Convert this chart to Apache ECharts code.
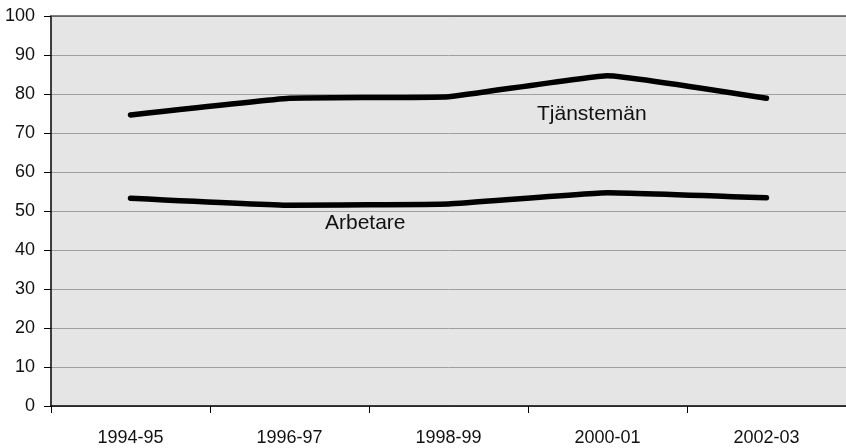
<!DOCTYPE html>
<html>
<head>
<meta charset="utf-8">
<script src="https://cdn.jsdelivr.net/npm/echarts@6/dist/echarts.min.js"></script>
<style>
  html, body { margin: 0; padding: 0; background: #ffffff; }
  #chart { width: 846px; height: 448px; }
</style>
</head>
<body>
<div id="chart"></div>
<script>
// Survey periods on the category axis
const periods = ['1994-95', '1996-97', '1998-99', '2000-01', '2002-03'];
// Share per group, percent
const tjansteman = [74.6, 78.9, 79.3, 84.7, 78.9];
const arbetare = [53.3, 51.5, 51.8, 54.7, 53.4];
// Value axis ticks
const yMin = 0, yMax = 100, yStep = 10;

const labelFont = '"Liberation Sans", Arial, sans-serif';

const chart = echarts.init(document.getElementById('chart'));

function lineSeries(name, data) {
  return {
    name: name,
    type: 'line',
    data: data,
    smooth: 0.1,
    symbol: 'none',
    lineStyle: { color: '#000000', width: 5.5, cap: 'round', join: 'round' },
    animation: false
  };
}

chart.setOption({
  animation: false,
  backgroundColor: '#ffffff',
  grid: {
    left: 51, right: -2, top: 16, bottom: 42,
    show: true, backgroundColor: '#e5e5e5', borderWidth: 0
  },
  xAxis: [{
    type: 'category',
    data: periods,
    boundaryGap: true,
    axisLine: { lineStyle: { color: '#000000', width: 1.5 } },
    axisTick: { show: true, length: 7, lineStyle: { color: '#000000' } },
    axisLabel: { color: '#111111', fontFamily: labelFont, fontSize: 18, margin: 23 }
  }, {
    type: 'category',
    data: periods,
    position: 'top',
    axisLine: { lineStyle: { color: '#555555', width: 1.5 } },
    axisTick: { show: false },
    axisLabel: { show: false }
  }],
  yAxis: {
    type: 'value',
    min: yMin, max: yMax, interval: yStep,
    axisLine: { show: true, lineStyle: { color: '#000000', width: 1.5 } },
    axisTick: { show: true, length: 7, lineStyle: { color: '#000000' } },
    axisLabel: { color: '#111111', fontFamily: labelFont, fontSize: 18, margin: 16 },
    splitLine: { show: true, lineStyle: { color: '#a0a0a0', width: 1 } }
  },
  series: [lineSeries('Tjänstemän', tjansteman), lineSeries('Arbetare', arbetare)],
  graphic: [
    {
      type: 'text', left: 537, top: 104,
      style: { text: 'Tjänstemän', fill: '#111111', font: '21px ' + labelFont }
    },
    {
      type: 'text', left: 325, top: 213,
      style: { text: 'Arbetare', fill: '#111111', font: '21px ' + labelFont }
    }
  ]
});
</script>
</body>
</html>
